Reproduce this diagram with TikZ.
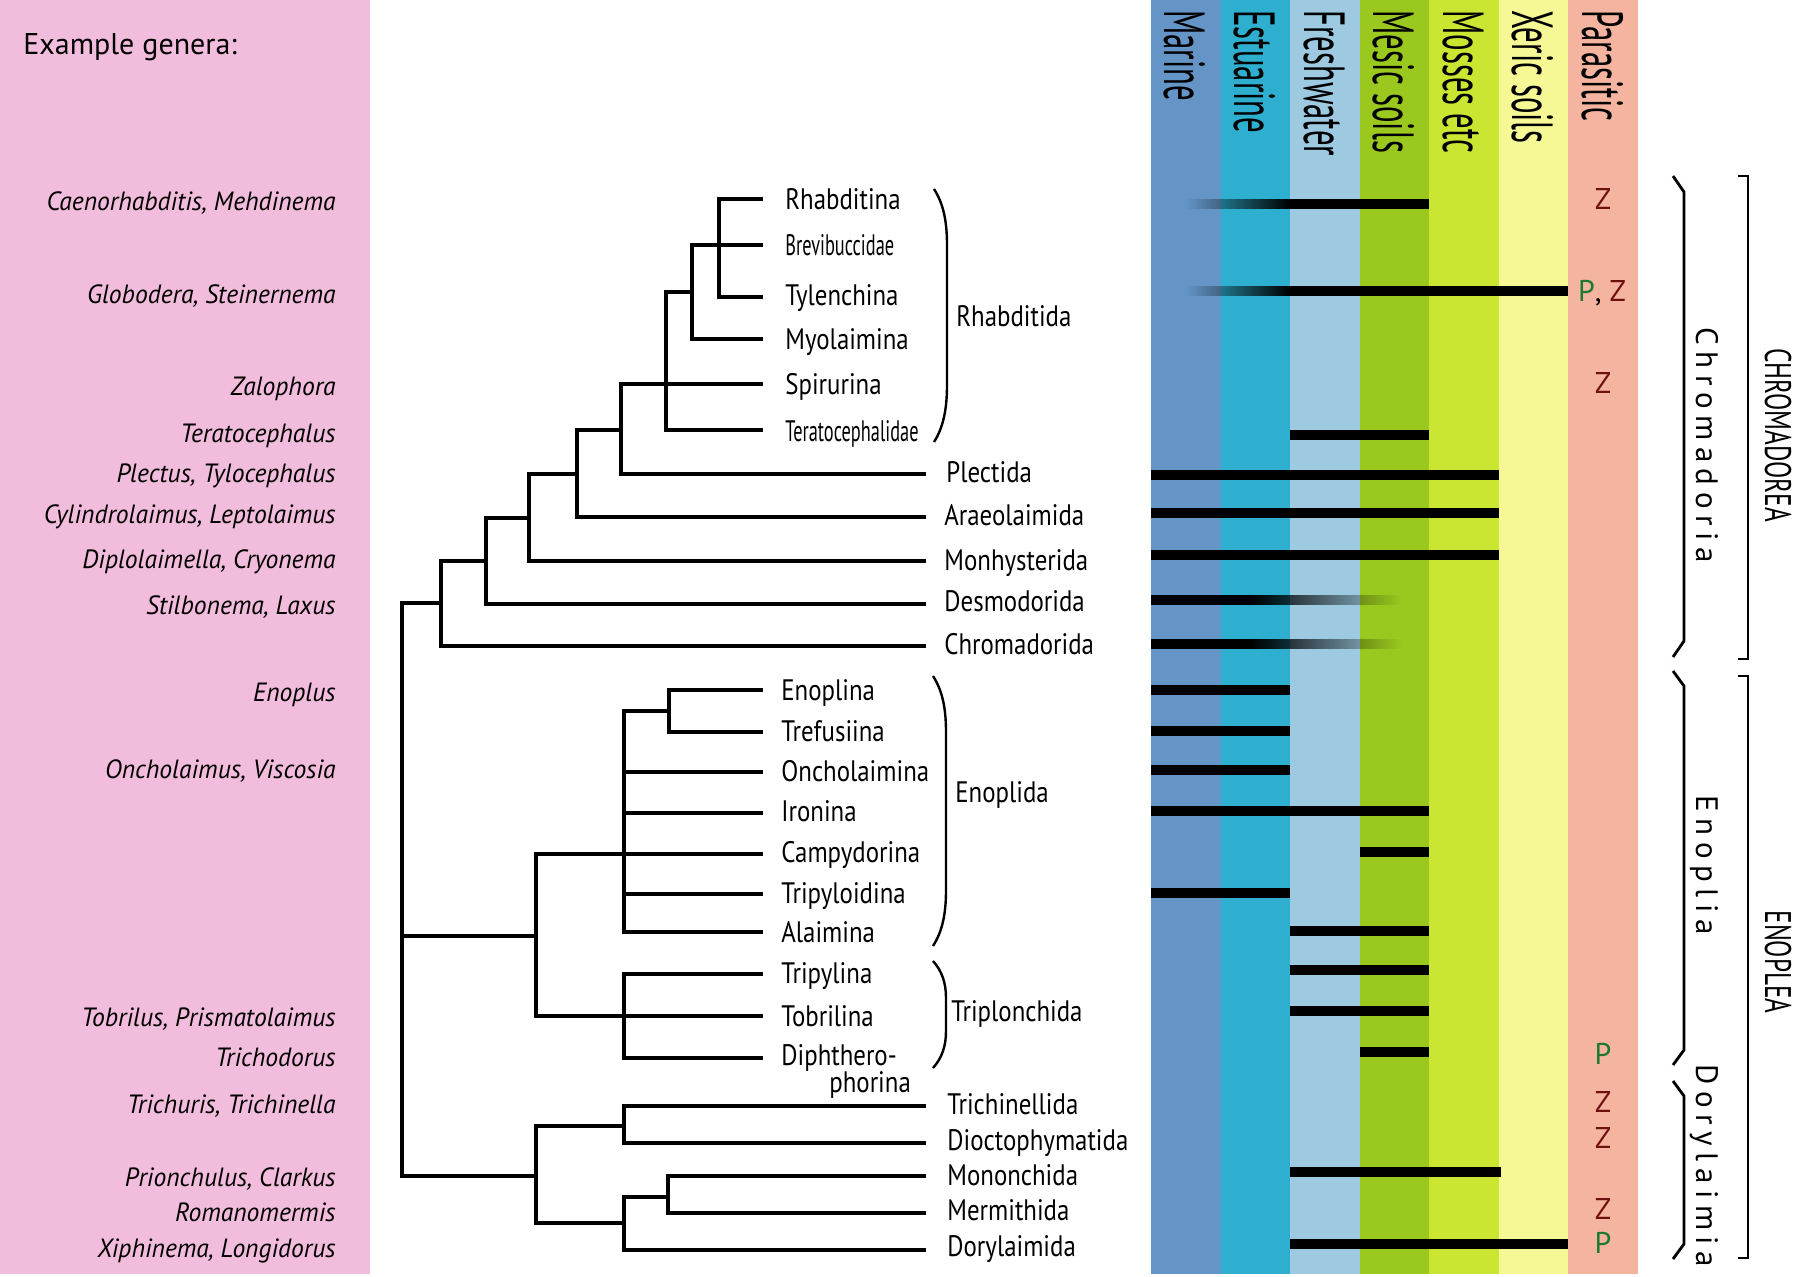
\documentclass[tikz,border=0pt]{standalone}
\usepackage{fontspec}
\usetikzlibrary{fadings}
\setmainfont{PT Sans}
\newfontfamily\condf{PT Sans}[FakeStretch=0.84]
\newfontfamily\xcondf{PT Sans}[FakeStretch=0.62]
\newfontfamily\headf{PT Sans}[FakeStretch=0.53]
\newfontfamily\capf{PT Sans}[FakeStretch=0.68]
\newfontfamily\spacedf{PT Sans}[LetterSpace=21]
\newfontfamily\genf{PT Sans}[FakeStretch=0.97]
\definecolor{pinkbg}{RGB}{242,188,220}
\definecolor{cMar}{RGB}{100,149,198}
\definecolor{cEst}{RGB}{47,175,208}
\definecolor{cFre}{RGB}{157,201,225}
\definecolor{cMes}{RGB}{154,200,31}
\definecolor{cMos}{RGB}{203,230,50}
\definecolor{cXer}{RGB}{246,247,149}
\definecolor{cPar}{RGB}{245,180,160}
\definecolor{zred}{RGB}{110,16,16}
\definecolor{pgreen}{RGB}{27,122,46}
\tikzfading[name=fadeR, left color=transparent!100, right color=transparent!0]
\tikzfading[name=fadeL, left color=transparent!0, right color=transparent!100]
\tikzset{
  tree/.style={line width=1.75pt, line join=miter},
  taxon/.style={font=\condf\fontsize{14.8}{16}\selectfont, inner sep=0pt, text height=10.3pt, text depth=0pt, anchor=west},
  xtaxon/.style={taxon, font=\xcondf\fontsize{14.8}{16}\selectfont},
  genus/.style={font=\genf\itshape\fontsize{13.2}{15}\selectfont, inner sep=0pt, text height=9.2pt, text depth=0pt, anchor=east},
  head/.style={font=\headf\fontsize{29}{30}\selectfont, rotate=-90, anchor=west, inner sep=0pt, text height=20pt, text depth=0pt},
  zp/.style={font=\fontsize{15}{17}\selectfont, inner sep=0pt, text height=10.5pt, text depth=0pt},
  spaced/.style={font=\spacedf\fontsize{15.5}{17}\selectfont, rotate=-90, inner sep=0pt, text height=10.8pt, text depth=0pt},
  capl/.style={font=\capf\fontsize{18.5}{20}\selectfont, rotate=-90, inner sep=0pt, text height=13pt, text depth=0pt},
  paren/.style={line width=1.2pt},
  rbrace/.style={line width=1.4pt, line join=miter},
  bar/.style={fill=black}
}
\begin{document}
\begin{tikzpicture}[x=0.5pt,y=-0.5pt]
\useasboundingbox (0,0) rectangle (1800,1277);
% panels
\fill[pinkbg] (0,0) rectangle (370,1274);
\fill[cMar] (1151,0) rectangle (1220.6,1274);
\fill[cEst] (1220.6,0) rectangle (1290.1,1274);
\fill[cFre] (1290.1,0) rectangle (1359.7,1274);
\fill[cMes] (1359.7,0) rectangle (1429.3,1274);
\fill[cMos] (1429.3,0) rectangle (1498.9,1274);
\fill[cXer] (1498.9,0) rectangle (1568.4,1274);
\fill[cPar] (1568.4,0) rectangle (1638,1274);
% habitat headers
\node[head] (hMar) at (1184,10) {Marine};
\node[head] (hEst) at (1254,10) {Estuarine};
\node[head] (hFre) at (1324,10) {Freshwater};
\node[head] (hMes) at (1393,10) {Mesic soils};
\node[head] (hMos) at (1463,10) {Mosses etc};
\node[head] (hXer) at (1532,10) {Xeric soils};
\node[head] (hPar) at (1602,10) {Parasitic};
% habitat bars
\fill[black, path fading=fadeR, fit fading=true] (1186,199) rectangle (1290,209);
\fill[bar] (1289,199) rectangle (1429.3,209);
\fill[black, path fading=fadeR, fit fading=true] (1186,286) rectangle (1290,296);
\fill[bar] (1289,286) rectangle (1568.4,296);
\fill[bar] (1290.1,430) rectangle (1429.3,440);
\fill[bar] (1151,470) rectangle (1498.9,480);
\fill[bar] (1151,508) rectangle (1498.9,518);
\fill[bar] (1151,550) rectangle (1498.9,560);
\fill[bar] (1151,595) rectangle (1251,605);
\fill[black, path fading=fadeL, fit fading=true] (1250,595) rectangle (1401,605);
\fill[bar] (1151,639) rectangle (1251,649);
\fill[black, path fading=fadeL, fit fading=true] (1250,639) rectangle (1401,649);
\fill[bar] (1151,685) rectangle (1290.1,695);
\fill[bar] (1151,726) rectangle (1290.1,736);
\fill[bar] (1151,765) rectangle (1290.1,775);
\fill[bar] (1151,806) rectangle (1429.3,816);
\fill[bar] (1359.7,847) rectangle (1429.3,857);
\fill[bar] (1151,888) rectangle (1290.1,898);
\fill[bar] (1290.1,926) rectangle (1429.3,936);
\fill[bar] (1290.1,965) rectangle (1429.3,975);
\fill[bar] (1290.1,1006) rectangle (1429.3,1016);
\fill[bar] (1359.7,1047) rectangle (1429.3,1057);
\fill[bar] (1290.1,1167) rectangle (1501,1177);
\fill[bar] (1290.1,1239) rectangle (1568.4,1249);
% parasitic letters
\node[zp, text=zred] (z1) at (1603,199) {Z};
\node[zp] (pz) at (1602,291) {\textcolor{pgreen}{P}, \textcolor{zred}{Z}};
\node[zp, text=zred] (z3) at (1603,383) {Z};
\node[zp, text=pgreen] (p4) at (1603,1054) {P};
\node[zp, text=zred] (z5) at (1603,1102) {Z};
\node[zp, text=zred] (z6) at (1603,1138) {Z};
\node[zp, text=zred] (z7) at (1603,1209) {Z};
\node[zp, text=pgreen] (p8) at (1603,1243) {P};
% genera
\node[anchor=west, inner sep=0pt, text height=10.5pt, text depth=0pt, font=\fontsize{15}{17}\selectfont] (ex) at (23,44) {Example genera:};
\node[genus] (g1) at (336,201) {Caenorhabditis, Mehdinema};
\node[genus] (g2) at (336,294) {Globodera, Steinernema};
\node[genus] (g3) at (336,386) {Zalophora};
\node[genus] (g4) at (336,433) {Teratocephalus};
\node[genus] (g5) at (336,473) {Plectus, Tylocephalus};
\node[genus] (g6) at (336,514) {Cylindrolaimus, Leptolaimus};
\node[genus] (g7) at (336,559) {Diplolaimella, Cryonema};
\node[genus] (g8) at (336,605) {Stilbonema, Laxus};
\node[genus] (g9) at (336,692) {Enoplus};
\node[genus] (g10) at (336,769) {Oncholaimus, Viscosia};
\node[genus] (g11) at (336,1017) {Tobrilus, Prismatolaimus};
\node[genus] (g12) at (336,1057) {Trichodorus};
\node[genus] (g13) at (336,1104) {Trichuris, Trichinella};
\node[genus] (g14) at (336,1177) {Prionchulus, Clarkus};
\node[genus] (g15) at (336,1212) {Romanomermis};
\node[genus] (g16) at (336,1248) {Xiphinema, Longidorus};
% tree coordinates: leaves
\coordinate (lRha) at (763,199);
\coordinate (lBre) at (763,245);
\coordinate (lTyl) at (763,297);
\coordinate (lMyo) at (763,339);
\coordinate (lSpi) at (763,384);
\coordinate (lTer) at (763,430);
\coordinate (lPle) at (926,474);
\coordinate (lAra) at (926,517);
\coordinate (lMon) at (926,561);
\coordinate (lDes) at (926,604);
\coordinate (lChr) at (926,646);
\coordinate (lEnn) at (763,690);
\coordinate (lTre) at (763,732);
\coordinate (lOnc) at (763,772);
\coordinate (lIro) at (763,813);
\coordinate (lCam) at (763,854);
\coordinate (lTpd) at (763,894);
\coordinate (lAla) at (763,932);
\coordinate (lTpl) at (763,974);
\coordinate (lTob) at (763,1016);
\coordinate (lDip) at (763,1058);
\coordinate (lTri) at (926,1106);
\coordinate (lDio) at (926,1143);
\coordinate (lMoc) at (926,1176);
\coordinate (lMer) at (926,1213);
\coordinate (lDor) at (926,1250);
% internal nodes
\coordinate (nA) at (719,245);
\coordinate (nB) at (692,292);
\coordinate (nC) at (666,384);
\coordinate (nD) at (621,430);
\coordinate (nE) at (577,474);
\coordinate (nF) at (529,518);
\coordinate (nG) at (486,561);
\coordinate (nH) at (441,603);
\coordinate (nI) at (669,711);
\coordinate (nJ) at (624,854);
\coordinate (nL) at (624,1016);
\coordinate (nK) at (536,936);
\coordinate (nM) at (624,1126);
\coordinate (nN) at (668,1197);
\coordinate (nP) at (624,1223);
\coordinate (nO) at (536,1176);
\coordinate (root) at (402,936);
% branches
\draw[tree] (nA) |- (lRha) (nA) |- (lTyl);
\draw[tree] (nB) |- (nA) (nB) |- (lBre) (nB) |- (lMyo);
\draw[tree] (nC) |- (nB) (nC) |- (lSpi) (nC) |- (lTer);
\draw[tree] (nD) |- (nC) (nD) |- (lPle);
\draw[tree] (nE) |- (nD) (nE) |- (lAra);
\draw[tree] (nF) |- (nE) (nF) |- (lMon);
\draw[tree] (nG) |- (nF) (nG) |- (lDes);
\draw[tree] (nH) |- (nG) (nH) |- (lChr);
\draw[tree] (nI) |- (lEnn) (nI) |- (lTre);
\draw[tree] (nJ) |- (nI) (nJ) |- (lOnc) (nJ) |- (lIro) (nJ) |- (lCam) (nJ) |- (lTpd) (nJ) |- (lAla);
\draw[tree] (nL) |- (lTpl) (nL) |- (lTob) (nL) |- (lDip);
\draw[tree] (nK) |- (nJ) (nK) |- (nL);
\draw[tree] (nM) |- (lTri) (nM) |- (lDio);
\draw[tree] (nN) |- (lMoc) (nN) |- (lMer);
\draw[tree] (nP) |- (nN) (nP) |- (lDor);
\draw[tree] (nO) |- (nM) (nO) |- (nP);
\draw[tree] (root) |- (nH) (root) |- (nK) (root) |- (nO);
% taxon labels
\node[taxon] (tRha) at (785,199) {Rhabditina};
\node[xtaxon] (tBre) at (785,245) {Brevibuccidae};
\node[taxon] (tTyl) at (785,295) {Tylenchina};
\node[taxon] (tMyo) at (785,339) {Myolaimina};
\node[taxon] (tSpi) at (785,384) {Spirurina};
\node[xtaxon] (tTer) at (785,431) {Teratocephalidae};
\node[taxon] (tPle) at (946,472) {Plectida};
\node[taxon] (tAra) at (944,515) {Araeolaimida};
\node[taxon] (tMon) at (944,560) {Monhysterida};
\node[taxon] (tDes) at (944,601) {Desmodorida};
\node[taxon] (tChr) at (944,644) {Chromadorida};
\node[taxon] (tEnn) at (781,690) {Enoplina};
\node[taxon] (tTre) at (781,731) {Trefusiina};
\node[taxon] (tOnc) at (781,771) {Oncholaimina};
\node[taxon] (tIro) at (781,811) {Ironina};
\node[taxon] (tCam) at (781,852) {Campydorina};
\node[taxon] (tTpd) at (781,893) {Tripyloidina};
\node[taxon] (tAla) at (781,932) {Alaimina};
\node[taxon] (tTpl) at (781,973) {Tripylina};
\node[taxon] (tTob) at (781,1016) {Tobrilina};
\node[taxon] (tDip) at (781,1055) {Diphthero-};
\node[taxon] (tDip2) at (829,1082) {phorina};
\node[taxon] (tTri) at (947,1104) {Trichinellida};
\node[taxon] (tDio) at (947,1140) {Dioctophymatida};
\node[taxon] (tMoc) at (947,1175) {Mononchida};
\node[taxon] (tMer) at (947,1210) {Mermithida};
\node[taxon] (tDor) at (947,1246) {Dorylaimida};
% group parentheses
\draw[paren] (934,189) .. controls (943,203) and (947,220) .. (947,245) -- (947,385) .. controls (947,410) and (943,428) .. (934,442);
\node[taxon] (gRha) at (956,316) {Rhabditida};
\draw[paren] (933,676) .. controls (942,690) and (946,707) .. (946,732) -- (946,890) .. controls (946,915) and (942,932) .. (933,946);
\node[taxon] (gEno) at (955,792) {Enoplida};
\draw[paren] (933,961) .. controls (942,971) and (946,983) .. (946,998) -- (946,1031) .. controls (946,1046) and (942,1058) .. (933,1068);
\node[taxon] (gTri) at (951,1011) {Triplonchida};
% right braces and brackets
\draw[rbrace] (1673,176) -- (1684,192) -- (1684,641) -- (1673,657);
\draw[rbrace] (1673,671) -- (1684,686) -- (1684,1050) -- (1673,1065);
\draw[rbrace] (1673,1081) -- (1684,1096) -- (1684,1244) -- (1673,1259);
\draw[rbrace] (1738,176) -- (1748,176) -- (1748,659) -- (1738,659);
\draw[rbrace] (1738,676) -- (1748,676) -- (1748,1258) -- (1738,1258);
\node[spaced] (lChrd) at (1707,445) {Chromadoria};
\node[spaced] (lEnop) at (1707,865) {Enoplia};
\node[spaced] (lDory) at (1707,1166) {Dorylaimia};
\node[capl] (lCHR) at (1778,435) {CHROMADOREA};
\node[capl] (lENO) at (1778,962) {ENOPLEA};
\end{tikzpicture}
\end{document}
